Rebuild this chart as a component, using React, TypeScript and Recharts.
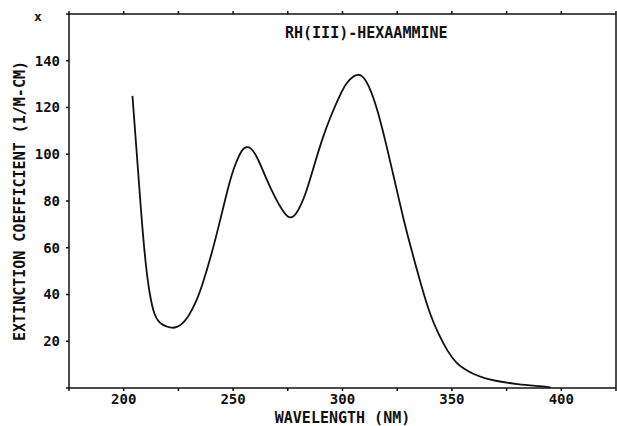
import { LineChart, Line, XAxis, YAxis } from "recharts";

const wavelength = [
  204, 206, 208, 210, 212, 214, 216, 218, 220, 222, 224, 226, 228, 230, 233, 236, 240, 244, 248, 251,
  254, 256, 258, 261, 265, 269, 273, 276, 279, 283, 287, 291, 295, 299, 302, 305, 307, 309, 312, 316,
  320, 324, 328, 332, 336, 340, 344, 348, 352, 356, 360, 365, 370, 380, 390, 395,
];
const extinction = [
  125, 100, 75, 54, 40, 32, 28.5, 27, 26.2, 25.8, 26, 27, 28.8, 31.5, 37, 44.5, 57, 71.5, 86.5, 95.5,
  101.5, 103, 102.5, 98.5, 90, 82, 75.5, 73, 75, 83, 95, 107, 117, 125.5, 130.5, 133.3, 134, 133.3, 129, 118.5,
  104, 88, 72, 57.5, 44, 32, 23, 16, 11, 8, 6, 4.2, 3.1, 1.7, 0.8, 0.3,
];
const xTicks = [175, 200, 225, 250, 275, 300, 325, 350, 375, 400, 425];
const yTicks = [0, 20, 40, 60, 80, 100, 120, 140, 160];

const data = wavelength.map((w, i) => ({ w, e: extinction[i] }));

const font = "'DejaVu Sans Mono', monospace";
const tickStyle = { fill: "#111", fontSize: 14, fontFamily: font, fontWeight: 700 };
const labelStyle = { fill: "#111", fontSize: 15, fontFamily: font, fontWeight: 700 };

export default function App() {
  return (
    <div style={{ position: "absolute", left: 0, top: 0, width: 617, height: 426, background: "#fff", overflow: "hidden" }}>
      <LineChart width={617} height={426} data={data} margin={{ top: 13, right: 0, bottom: 0, left: 0 }}>
        <XAxis
          dataKey="w"
          type="number"
          domain={[175, 425]}
          ticks={xTicks}
          tickFormatter={(v) => (v % 50 === 0 && v > 175 && v < 425 ? String(v) : "")}
          tickSize={3}
          tickMargin={3}
          height={38}
          stroke="#111"
          strokeWidth={1.5}
          tick={tickStyle}
          label={{ value: "WAVELENGTH (NM)", position: "insideBottom", offset: 3, style: labelStyle }}
        />
        <XAxis
          xAxisId="top"
          orientation="top"
          dataKey="w"
          type="number"
          domain={[175, 425]}
          ticks={xTicks}
          tickFormatter={() => ""}
          tickSize={3}
          height={1}
          stroke="#111"
          strokeWidth={1.5}
        />
        <YAxis
          type="number"
          domain={[0, 160]}
          ticks={yTicks}
          tickFormatter={(v) => (v > 0 && v < 160 ? String(v) : "")}
          tickSize={3}
          tickMargin={6}
          width={69}
          stroke="#111"
          strokeWidth={1.5}
          tick={tickStyle}
          label={{
            value: "EXTINCTION COEFFICIENT (1/M-CM)",
            angle: -90,
            position: "insideLeft",
            offset: 20,
            style: { ...labelStyle, textAnchor: "middle" },
          }}
        />
        <YAxis
          yAxisId="right"
          orientation="right"
          type="number"
          domain={[0, 160]}
          ticks={yTicks}
          tickFormatter={() => ""}
          tickSize={3}
          width={1}
          stroke="#111"
          strokeWidth={1.5}
        />
        <Line
          type="natural"
          dataKey="e"
          stroke="#111"
          strokeWidth={1.8}
          dot={false}
          isAnimationActive={false}
        />
      </LineChart>
      <div style={{ position: "absolute", left: 34, top: 9, fontFamily: font, fontSize: 13, fontWeight: 700, color: "#111" }}>x</div>
      <div
        style={{ position: "absolute", left: 285, top: 24, fontFamily: font, fontSize: 15, fontWeight: 700, color: "#111" }}
      >
        RH(III)-HEXAAMMINE
      </div>
    </div>
  );
}
